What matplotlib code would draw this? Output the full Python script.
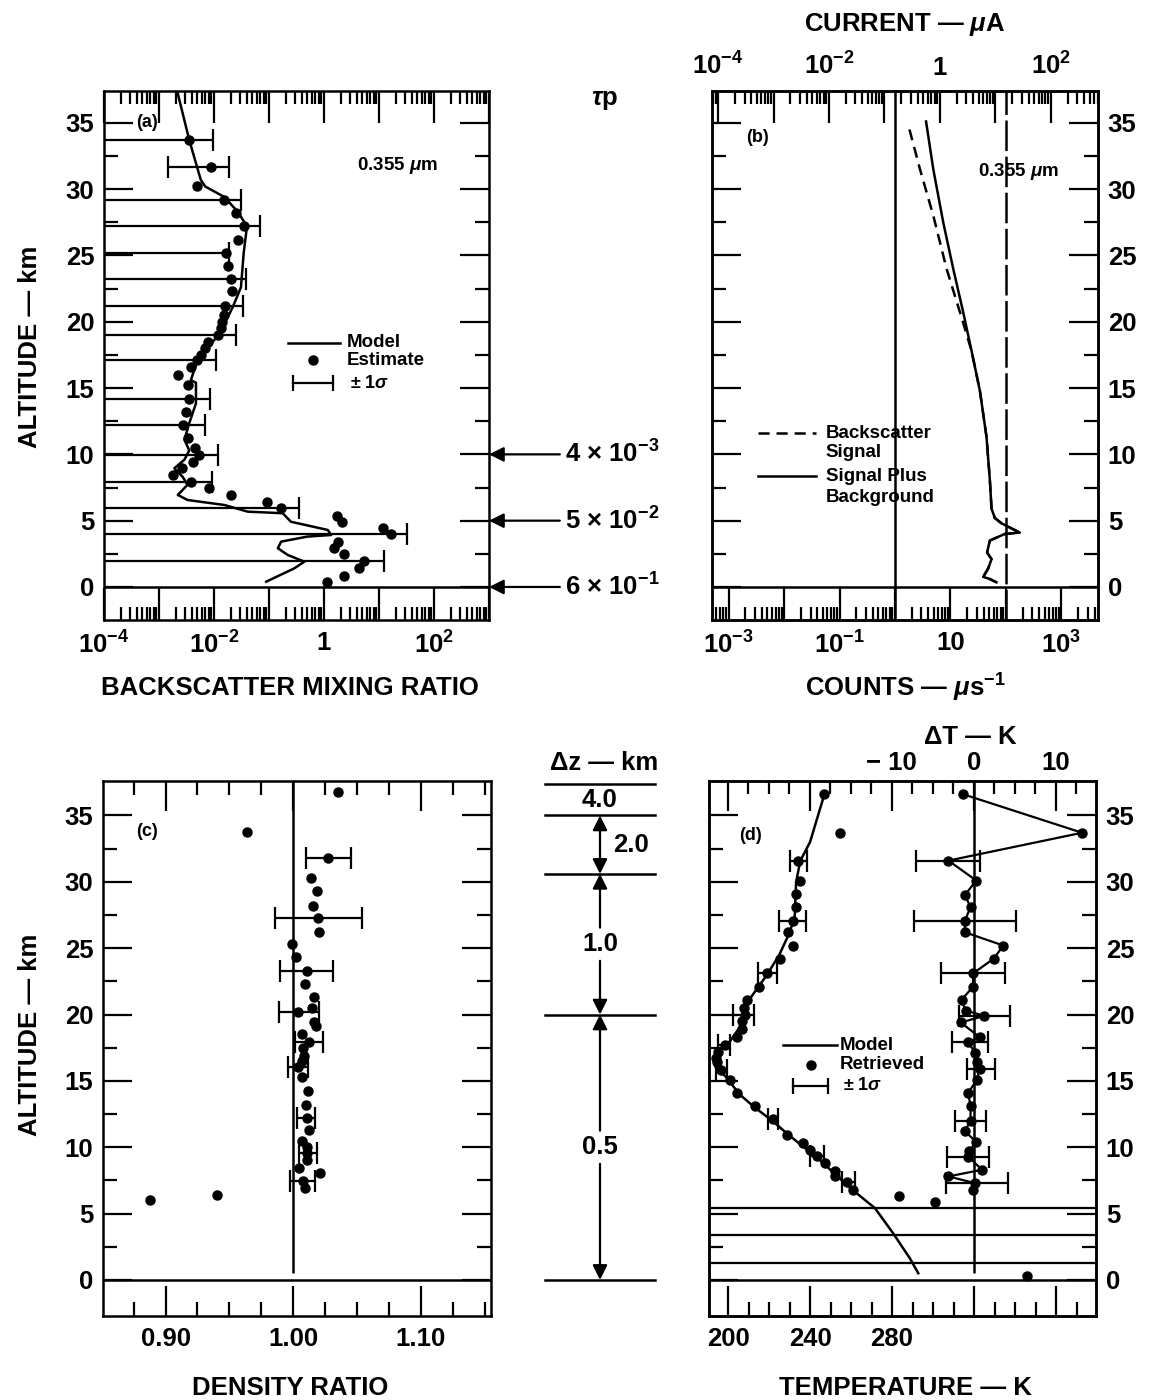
import numpy as np
import matplotlib
matplotlib.use('Agg')
import matplotlib.pyplot as plt
from matplotlib.ticker import FixedLocator, FixedFormatter, NullFormatter, LogLocator

plt.rcParams['font.family'] = ['Liberation Sans', 'DejaVu Sans']
plt.rcParams['font.weight'] = 'bold'
plt.rcParams['mathtext.fontset'] = 'custom'
plt.rcParams['mathtext.rm'] = 'Liberation Sans:bold'
plt.rcParams['mathtext.it'] = 'Liberation Sans:bold:italic'
plt.rcParams['mathtext.bf'] = 'Liberation Sans:bold'
plt.rcParams['mathtext.default'] = 'rm'
plt.rcParams['lines.scale_dashes'] = False
plt.rcParams['axes.linewidth'] = 1.8

# ---------------- data ----------------
# panel (a): backscatter mixing ratio
a_model_alt = [37.2, 33.7, 30.7, 30.2, 29.4, 28.3, 27.2, 25.2, 22.6, 21.1, 19.1, 17.1, 15.6,
               15.4, 13.85, 12.35, 11.1, 10.3, 9.6, 8.95, 8.3, 7.7, 6.94, 6.56, 6.18, 5.68,
               5.56, 4.92, 4.3, 3.92, 3.8, 3.42, 2.92, 2.41, 1.91, 1.41, 0.4]
a_model_val = [0.0022, 0.00355, 0.00575, 0.00692, 0.0155, 0.0269, 0.0398, 0.0347, 0.0309,
               0.0219, 0.0126, 0.0050, 0.0038, 0.0047, 0.0047, 0.00355, 0.0029, 0.00355,
               0.0029, 0.0019, 0.0027, 0.0033, 0.0022, 0.0033, 0.0155, 0.041, 0.178, 0.25,
               1.17, 1.35, 0.50, 0.166, 0.145, 0.22, 0.44, 0.29, 0.089]
a_est_alt = [33.7, 31.7, 30.2, 29.2, 28.2, 27.2, 26.2, 25.2, 24.2, 23.2, 22.3, 21.2, 20.5,
             20.0, 19.5, 19.0, 18.5, 18.0, 17.5, 17.1, 16.6, 16.0, 15.2, 14.2, 13.2, 12.2,
             11.2, 10.46, 9.95, 9.45, 8.95, 8.45, 7.94, 7.44, 6.94, 6.43, 5.93, 5.38, 4.93,
             4.48, 3.97, 3.42, 2.92, 2.46, 1.96, 1.41, 0.85, 0.35]
a_est_val = [0.00347, 0.0089, 0.0050, 0.0155, 0.0251, 0.0355, 0.0269, 0.0162, 0.0178, 0.0200,
             0.0214, 0.0158, 0.0151, 0.0138, 0.0132, 0.0117, 0.0079, 0.0069, 0.0058, 0.0049,
             0.0038, 0.00224, 0.0033, 0.00355, 0.0031, 0.0027, 0.0033, 0.0046, 0.0054,
             0.0041, 0.0026, 0.0018, 0.0038, 0.0081, 0.0204, 0.091, 0.166, 1.74, 2.09, 11.7,
             16.6, 1.78, 1.55, 2.29, 5.4, 4.3, 2.34, 1.12]
a_err_alt = [33.7, 31.7, 29.2, 27.2, 25.2, 23.2, 21.2, 19.0, 17.1, 14.2, 12.2, 9.95, 7.94,
             5.93, 3.97, 1.96]
a_err_val = [0.00347, 0.0089, 0.0155, 0.0355, 0.0162, 0.0200, 0.0158, 0.0117, 0.0049,
             0.00355, 0.0027, 0.0054, 0.0038, 0.166, 16.6, 5.4]
a_err_upper = [0.0095, 0.019, 0.031, 0.069, 0.0190, 0.038, 0.033, 0.025, 0.011, 0.0085,
               0.0069, 0.012, 0.0091, 0.355, 32.4, 12.3]
a_err_lower = [0.0, 0.00145, 0.0, 0.0, 0.0, 0.0, 0.0, 0.0, 0.0, 0.0, 0.0, 0.0, 0.0, 0.0,
               0.0, 0.0]
a_tau_alt = [10, 5, 0]
a_tau_labels = ['4 \u00d7 10$^{\u22123}$', '5 \u00d7 10$^{\u22122}$', '6 \u00d7 10$^{\u22121}$']

# panel (b): counts
b_total_alt = [35.1, 31.5, 27.5, 24.0, 20.7, 17.8, 14.8, 11.3, 8.05, 5.9, 5.2, 4.8, 4.1,
               4.0, 3.5, 2.6, 2.1, 1.4, 0.76, 0.6, 0.35]
b_total_val = [3.63, 4.9, 7.4, 11.2, 17.0, 24.0, 33.9, 44.7, 51.3, 55.0, 63.1, 83.2, 178,
               95.5, 51.3, 45.7, 55.0, 47.9, 38.9, 51.3, 67.6]
b_back_alt = [34.5, 31.5, 28.0, 24.0, 19.9, 17.8, 14.8, 11.3, 8.05, 5.9, 5.2, 4.8, 4.1,
              4.0, 3.5, 2.6, 2.1, 1.4, 0.76, 0.6, 0.35]
b_back_val = [1.82, 2.82, 4.9, 8.5, 17.0, 24.0, 33.9, 44.7, 51.3, 55.0, 63.1, 83.2, 178,
              95.5, 51.3, 45.7, 55.0, 47.9, 38.9, 51.3, 67.6]
b_ref_solid = 1.0
b_ref_dashed = 100.0

# panel (c): density ratio
c_alt = [36.8, 33.76, 31.76, 30.3, 29.3, 28.2, 27.25, 26.2, 25.3, 24.3, 23.3, 22.3, 21.35,
         20.5, 20.2, 19.4, 19.1, 18.5, 17.9, 17.5, 16.9, 16.5, 16.05, 15.3, 14.26, 13.2,
         12.2, 11.3, 10.5, 10.0, 9.6, 9.0, 8.45, 8.04, 7.43, 6.9, 6.4, 6.0]
c_val = [1.0355, 0.964, 1.0276, 1.0137, 1.019, 1.0153, 1.0197, 1.0205, 0.9987, 1.0026,
         1.011, 1.009, 1.0166, 1.0145, 1.004, 1.016, 1.0176, 1.0066, 1.0126, 1.0074,
         1.0084, 1.0066, 1.004, 1.0066, 1.0118, 1.010, 1.0105, 1.0124, 1.0066, 1.011,
         1.011, 1.011, 1.0045, 1.021, 1.008, 1.009, 0.940, 0.888]
c_err_alt = [31.76, 27.25, 23.3, 20.2, 17.9, 16.05, 12.2, 9.6, 7.43]
c_err_val = [1.0276, 1.0197, 1.0105, 1.0046, 1.0122, 1.004, 1.0099, 1.0117, 1.0075]
c_err_sig = [0.0175, 0.034, 0.021, 0.016, 0.011, 0.008, 0.0072, 0.0072, 0.0096]
c_ref = 1.00
c_ref_from_alt = 0.5

# delta-z resolution column
dz_lines = [37.4, 35.0, 30.6, 20.0, 0.0]
dz_labels = ['4.0', '2.0', '1.0', '0.5']

# panel (d): temperature
d_model_alt = [36.6, 33.0, 31.6, 30.0, 27.3, 26.0, 24.5, 23.0, 21.2, 20.0, 19.0, 18.0, 17.2,
               16.5, 16.0, 15.3, 14.5, 14.0, 13.0, 12.0, 11.0, 10.0, 9.0, 8.0, 7.0, 6.5,
               5.4, 3.5, 1.6, 0.5]
d_model_T = [247.0, 240.0, 235.3, 233.2, 232.5, 229.5, 225.0, 219.0, 210.7, 207.6, 205.5,
             201.0, 195.5, 193.5, 194.0, 199.0, 203.0, 205.5, 213.0, 221.5, 229.0, 237.0,
             245.0, 252.0, 259.0, 263.0, 271.7, 280.6, 288.8, 292.8]
d_ret_alt = [36.6, 33.7, 31.6, 30.1, 29.1, 28.1, 27.06, 26.2, 25.2, 24.2, 23.1, 22.1, 21.1,
             20.5, 20.0, 19.5, 18.9, 18.3, 17.7, 17.2, 16.7, 16.4, 15.8, 15.1, 14.1, 13.1,
             12.1, 10.95, 10.3, 9.8, 9.35, 8.8, 8.2, 7.8, 7.4, 6.8, 6.35, 5.85, 0.3]
d_ret_T = [247.0, 254.6, 234.3, 235.1, 233.0, 233.0, 231.9, 229.4, 231.5, 225.4, 218.9, 215.3,
           209.4, 208.0, 208.3, 207.0, 206.7, 204.2, 198.5, 195.3, 194.0, 194.5, 196.6,
           201.0, 204.2, 213.2, 221.8, 228.6, 236.7, 240.0, 243.3, 247.3, 252.2, 252.2,
           257.9, 261.1, 283.6, 301.0, 345.7]
d_err_alt = [31.6, 27.06, 23.1, 20.0, 17.7, 15.8, 12.1, 9.35, 7.4]
d_err_T = [234.3, 231.4, 219.3, 207.7, 198.1, 196.7, 222.1, 243.3, 258.7]
d_err_Tsig = [4.1, 6.5, 4.5, 5.1, 2.8, 2.6, 2.4, 3.3, 3.3]
d_dT_alt = [36.6, 33.7, 31.6, 30.1, 29.0, 28.1, 27.06, 26.2, 25.2, 24.2, 23.1, 22.1, 21.1,
            20.3, 19.9, 19.4, 18.3, 17.9, 17.1, 16.4, 15.9, 15.1, 14.1, 13.1, 12.0, 11.2,
            10.4, 9.7, 9.3, 8.3, 7.8, 7.3, 6.8]
d_dT = [-1.3, 13.2, -3.1, 0.3, -1.1, -0.4, -1.1, -1.1, 3.6, 2.4, -0.1, -0.1, -1.5, -1.0,
        1.3, -1.6, 0.7, -0.7, 0.2, 0.4, 0.7, 0.4, -0.7, -0.4, -0.4, -1.1, 0.3, -0.6, -0.7,
        1.0, -3.1, 0.1, -0.1]
d_dT_err_alt = [31.6, 27.06, 23.1, 19.9, 17.9, 15.9, 12.0, 9.3, 7.3]
d_dT_err_val = [-3.1, -1.04, -0.14, 1.3, -0.5, 0.9, -0.4, -0.7, 0.35]
d_dT_err_sig = [3.9, 6.2, 3.9, 3.1, 2.2, 1.7, 1.9, 2.6, 3.8]
d_low_lines = [5.4, 3.4, 1.3]
d_ref_dT = 0.0
d_ref_from_alt = 0.5

alt_major = [0, 5, 10, 15, 20, 25, 30, 35]
alt_minor = [2.5, 7.5, 12.5, 17.5, 22.5, 27.5, 32.5]
ground_alt = 0.0

# ---------------- figure ----------------
W, H = 1158, 1400
fig = plt.figure(figsize=(W / 100, H / 100), dpi=100)


def rect(l, t, r, b):
    return [l / W, 1 - b / H, (r - l) / W, (b - t) / H]


def ftext(x, y, s, **kw):
    fig.text(x / W, 1 - y / H, s, **kw)


TICK_FS = 18.5
LAB_FS = 18.5
SMALL = 13.5
LW = 1.8
ELW = 1.6
MS = 6.5


def alt_axis(ax, ylim, side):
    ax.set_ylim(*ylim)
    ax.yaxis.set_major_locator(FixedLocator(alt_major))
    ax.yaxis.set_minor_locator(FixedLocator(alt_minor))
    ax.yaxis.set_major_formatter(FixedFormatter([str(v) for v in alt_major]))
    ax.tick_params(axis='y', which='both', direction='in', left=True, right=True,
                   width=1.6, labelsize=TICK_FS, pad=7,
                   labelleft=(side == 'left'), labelright=(side == 'right'))
    ax.tick_params(axis='y', which='major', length=21)
    ax.tick_params(axis='y', which='minor', length=10)
    ax.axhline(ground_alt, color='k', lw=LW, zorder=3)


def log_x(axis_ax, lo, hi, decades, labels):
    axis_ax.set_xscale('log')
    axis_ax.set_xlim(lo, hi)
    axis_ax.xaxis.set_major_locator(FixedLocator(decades))
    axis_ax.xaxis.set_major_formatter(FixedFormatter(labels))
    axis_ax.xaxis.set_minor_locator(LogLocator(base=10, subs=np.arange(2, 10), numticks=40))
    axis_ax.xaxis.set_minor_formatter(NullFormatter())


def x_ticks(ax, top, bottom, labeltop=False, labelbottom=True, major=23, minor=9.5):
    ax.tick_params(axis='x', which='both', direction='in', top=top, bottom=bottom,
                   width=1.6, labelsize=TICK_FS, pad=8,
                   labeltop=labeltop, labelbottom=labelbottom)
    ax.tick_params(axis='x', which='major', length=major)
    ax.tick_params(axis='x', which='minor', length=minor)


# ---------- panel (a) ----------
axA = fig.add_axes(rect(104, 91, 489, 620))
dec_a = [1e-4, 1e-3, 1e-2, 1e-1, 1, 1e1, 1e2, 1e3]
lab_a = ['10$^{\u22124}$', '', '10$^{\u22122}$', '', '1', '', '10$^{2}$', '']
log_x(axA, 1e-4, 1e3, dec_a, lab_a)
x_ticks(axA, True, True)
alt_axis(axA, (-2.49, 37.4), 'left')
a_val = np.array(a_err_val)
a_lo = a_val - np.array(a_err_lower)
a_hi = np.array(a_err_upper) - a_val
axA.errorbar(a_err_val, a_err_alt, xerr=[a_lo, a_hi], fmt='none', ecolor='k',
             elinewidth=ELW, capsize=8, capthick=ELW, zorder=2)
axA.plot(a_model_val, a_model_alt, '-', color='k', lw=LW, zorder=3)
axA.plot(a_est_val, a_est_alt, 'o', color='k', ms=MS, ls='none', zorder=4)
axA.text(0.112, 0.94, '(a)', transform=axA.transAxes, fontsize=13, ha='center', va='center')
axA.text(0.761, 0.86, '0.355 $\\mathit{\\mu}$m', transform=axA.transAxes, fontsize=SMALL,
         ha='center', va='center')
# legend (a)
axA.plot([0.478, 0.613], [0.524, 0.524], '-', color='k', lw=LW, transform=axA.transAxes)
axA.text(0.631, 0.524, 'Model', transform=axA.transAxes, fontsize=SMALL, va='center')
axA.plot([0.543], [0.491], 'o', color='k', ms=MS, transform=axA.transAxes)
axA.text(0.631, 0.491, 'Estimate', transform=axA.transAxes, fontsize=SMALL, va='center')
axA.plot([0.491, 0.595], [0.448, 0.448], '-', color='k', lw=ELW, transform=axA.transAxes)
axA.plot([0.491, 0.595], [0.448, 0.448], '|', color='k', ms=12, mew=ELW,
         transform=axA.transAxes)
axA.text(0.639, 0.448, '\u00b1 1$\\mathit{\\sigma}$', transform=axA.transAxes, fontsize=13,
         va='center')
for alt, lab in zip(a_tau_alt, a_tau_labels):
    axA.annotate('', xy=(1.0, alt), xycoords=('axes fraction', 'data'),
                 xytext=(1.184, alt), textcoords=('axes fraction', 'data'),
                 arrowprops=dict(arrowstyle='-|>', color='k', lw=1.6, mutation_scale=22,
                                 shrinkA=0, shrinkB=0), annotation_clip=False)
    axA.text(1.198, alt, lab, transform=axA.get_yaxis_transform(), fontsize=TICK_FS,
             va='center', ha='left', clip_on=False)

# ---------- panel (b) ----------
axB = fig.add_axes(rect(712, 91, 1098, 620))
axBt = axB.twiny()
dec_b = [1e-3, 1e-2, 1e-1, 1, 1e1, 1e2, 1e3]
lab_b = ['10$^{\u22123}$', '', '10$^{\u22121}$', '', '10', '', '10$^{3}$']
log_x(axB, 10 ** -3.30, 10 ** 3.66, dec_b, lab_b)
dec_bt = [1e-4, 1e-3, 1e-2, 1e-1, 1, 1e1, 1e2]
lab_bt = ['10$^{\u22124}$', '', '10$^{\u22122}$', '', '1', '', '10$^{2}$']
log_x(axBt, 10 ** -4.11, 10 ** 2.85, dec_bt, lab_bt)
x_ticks(axB, False, True)
x_ticks(axBt, True, False, labeltop=True, labelbottom=False)
alt_axis(axB, (-2.49, 37.4), 'right')
axB.axvline(b_ref_solid, color='k', lw=LW, zorder=2)
axB.axvline(b_ref_dashed, color='k', lw=LW, dashes=(22, 4), zorder=2)
axB.plot(b_back_val, b_back_alt, color='k', lw=LW, dashes=(8, 5), zorder=3)
axB.plot(b_total_val, b_total_alt, '-', color='k', lw=LW, zorder=3)
axB.text(0.119, 0.913, '(b)', transform=axB.transAxes, fontsize=13, ha='center', va='center')
axB.text(0.795, 0.847, '0.355 $\\mathit{\\mu}$m', transform=axB.transAxes, fontsize=SMALL,
         ha='center', va='center')
axB.plot([0.119, 0.269], [0.353, 0.353], color='k', lw=LW, dashes=(8, 5),
         transform=axB.transAxes)
axB.text(0.295, 0.353, 'Backscatter', transform=axB.transAxes, fontsize=SMALL, va='center')
axB.text(0.295, 0.316, 'Signal', transform=axB.transAxes, fontsize=SMALL, va='center')
axB.plot([0.119, 0.269], [0.272, 0.272], '-', color='k', lw=LW, transform=axB.transAxes)
axB.text(0.295, 0.272, 'Signal Plus', transform=axB.transAxes, fontsize=SMALL, va='center')
axB.text(0.295, 0.2325, 'Background', transform=axB.transAxes, fontsize=SMALL, va='center')

# ---------- panel (c) ----------
axC = fig.add_axes(rect(103, 781, 491, 1316))
axC.set_xlim(0.851, 1.155)
axC.xaxis.set_major_locator(FixedLocator([0.90, 1.00, 1.10]))
axC.xaxis.set_major_formatter(FixedFormatter(['0.90', '1.00', '1.10']))
axC.xaxis.set_minor_locator(FixedLocator(np.arange(0.875, 1.151, 0.025)))
x_ticks(axC, True, True, major=21.5, minor=10)
alt_axis(axC, (-2.72, 37.6), 'left')
axC.vlines(c_ref, c_ref_from_alt, 37.6, color='k', lw=LW, zorder=2)
axC.errorbar(c_err_val, c_err_alt, xerr=c_err_sig, fmt='none', ecolor='k',
             elinewidth=ELW, capsize=8, capthick=ELW, zorder=3)
axC.plot(c_val, c_alt, 'o', color='k', ms=MS, ls='none', zorder=4)
axC.text(0.113, 0.905, '(c)', transform=axC.transAxes, fontsize=13, ha='center', va='center')

# ---------- delta-z column ----------
axZ = fig.add_axes(rect(530, 781, 670, 1316))
axZ.set_xlim(0, 1)
axZ.set_ylim(-2.72, 37.6)
axZ.axis('off')
for z in dz_lines:
    axZ.plot([0.107, 0.893], [z, z], '-', color='k', lw=LW)
axZ.text(0.5, (dz_lines[0] + dz_lines[1]) / 2, dz_labels[0], ha='center', va='center',
         fontsize=TICK_FS)
axZ.annotate('', xy=(0.5, dz_lines[1]), xytext=(0.5, dz_lines[2]),
             arrowprops=dict(arrowstyle='<|-|>', color='k', lw=1.6, mutation_scale=22,
                             shrinkA=0, shrinkB=0))
axZ.text(0.72, (dz_lines[1] + dz_lines[2]) / 2, dz_labels[1], ha='center', va='center',
         fontsize=TICK_FS)
for (z_hi, z_lo), lab in zip([(dz_lines[2], dz_lines[3]), (dz_lines[3], dz_lines[4])],
                             dz_labels[2:]):
    mid = (z_hi + z_lo) / 2
    gap = 1.25
    axZ.annotate('', xy=(0.5, z_hi), xytext=(0.5, mid + gap),
                 arrowprops=dict(arrowstyle='-|>', color='k', lw=1.6, mutation_scale=22,
                                 shrinkA=0, shrinkB=0))
    axZ.annotate('', xy=(0.5, z_lo), xytext=(0.5, mid - gap),
                 arrowprops=dict(arrowstyle='-|>', color='k', lw=1.6, mutation_scale=22,
                                 shrinkA=0, shrinkB=0))
    axZ.text(0.5, mid, lab, ha='center', va='center', fontsize=TICK_FS)

# ---------- panel (d) ----------
axD = fig.add_axes(rect(709, 781, 1096, 1316))
axDt = axD.twiny()
axD.set_xlim(190.7, 379.5)
axD.xaxis.set_major_locator(FixedLocator([200, 240, 280, 320, 360]))
axD.xaxis.set_major_formatter(FixedFormatter(['200', '240', '280', '', '']))
axD.xaxis.set_minor_locator(FixedLocator(np.arange(190, 380, 10)))
axDt.set_xlim(-32.3, 14.9)
axDt.xaxis.set_major_locator(FixedLocator([-30, -20, -10, 0, 10]))
axDt.xaxis.set_major_formatter(FixedFormatter(['', '', '\u2212 10', '0', '10']))
axDt.xaxis.set_minor_locator(FixedLocator(np.arange(-32.5, 15, 2.5)))
x_ticks(axD, False, True, major=21.5, minor=10)
x_ticks(axDt, True, False, labeltop=True, labelbottom=False, major=21.5, minor=9)
axDt.tick_params(axis='x', pad=4)
alt_axis(axD, (-2.72, 37.6), 'right')
for z in d_low_lines:
    axD.axhline(z, color='k', lw=LW * 0.9, zorder=2)
axD.errorbar(d_err_T, d_err_alt, xerr=d_err_Tsig, fmt='none', ecolor='k',
             elinewidth=ELW, capsize=8, capthick=ELW, zorder=3)
axD.plot(d_model_T, d_model_alt, '-', color='k', lw=LW, zorder=3)
axD.plot(d_ret_T, d_ret_alt, 'o', color='k', ms=MS, ls='none', zorder=4)
axDt.vlines(d_ref_dT, d_ref_from_alt, 37.6, color='k', lw=LW, zorder=2)
axDt.errorbar(d_dT_err_val, d_dT_err_alt, xerr=d_dT_err_sig, fmt='none', ecolor='k',
              elinewidth=ELW, capsize=8, capthick=ELW, zorder=3)
axDt.plot(d_dT, d_dT_alt, '-o', color='k', lw=1.6, ms=MS, zorder=4)
axD.text(0.106, 0.899, '(d)', transform=axD.transAxes, fontsize=13, ha='center',
         va='center')
axD.plot([0.191, 0.331], [0.5065, 0.5065], '-', color='k', lw=LW, transform=axD.transAxes)
axD.text(0.339, 0.5065, 'Model', transform=axD.transAxes, fontsize=SMALL, va='center')
axD.plot([0.264], [0.470], 'o', color='k', ms=MS, transform=axD.transAxes)
axD.text(0.339, 0.470, 'Retrieved', transform=axD.transAxes, fontsize=SMALL, va='center')
axD.plot([0.217, 0.307], [0.430, 0.430], '-', color='k', lw=ELW, transform=axD.transAxes)
axD.plot([0.217, 0.307], [0.430, 0.430], '|', color='k', ms=12, mew=ELW,
         transform=axD.transAxes)
axD.text(0.346, 0.430, '\u00b1 1$\\mathit{\\sigma}$', transform=axD.transAxes, fontsize=13,
         va='center')

# ---------- outer labels ----------
ftext(905, 25, 'CURRENT \u2014 $\\mathit{\\mu}$A', fontsize=LAB_FS, ha='center', va='center')
ftext(605, 100, '$\\mathit{\\tau}$p', fontsize=LAB_FS, ha='center', va='center')
ftext(290, 688, 'BACKSCATTER MIXING RATIO', fontsize=LAB_FS, ha='center', va='center')
ftext(905, 688, 'COUNTS \u2014 $\\mathit{\\mu}$s$^{\u22121}$', fontsize=LAB_FS, ha='center',
      va='center')
ftext(30, 347, 'ALTITUDE \u2014 km', fontsize=LAB_FS, ha='center', va='center',
      rotation=90)
ftext(30, 1035, 'ALTITUDE \u2014 km', fontsize=LAB_FS, ha='center', va='center',
      rotation=90)
ftext(604, 763, '\u0394z \u2014 km', fontsize=LAB_FS, ha='center', va='center')
ftext(970, 737, '\u0394T \u2014 K', fontsize=LAB_FS, ha='center', va='center')
ftext(290, 1388, 'DENSITY RATIO', fontsize=LAB_FS, ha='center', va='center')
ftext(905, 1388, 'TEMPERATURE \u2014 K', fontsize=LAB_FS, ha='center', va='center')

fig.savefig('out.png', dpi=100)
